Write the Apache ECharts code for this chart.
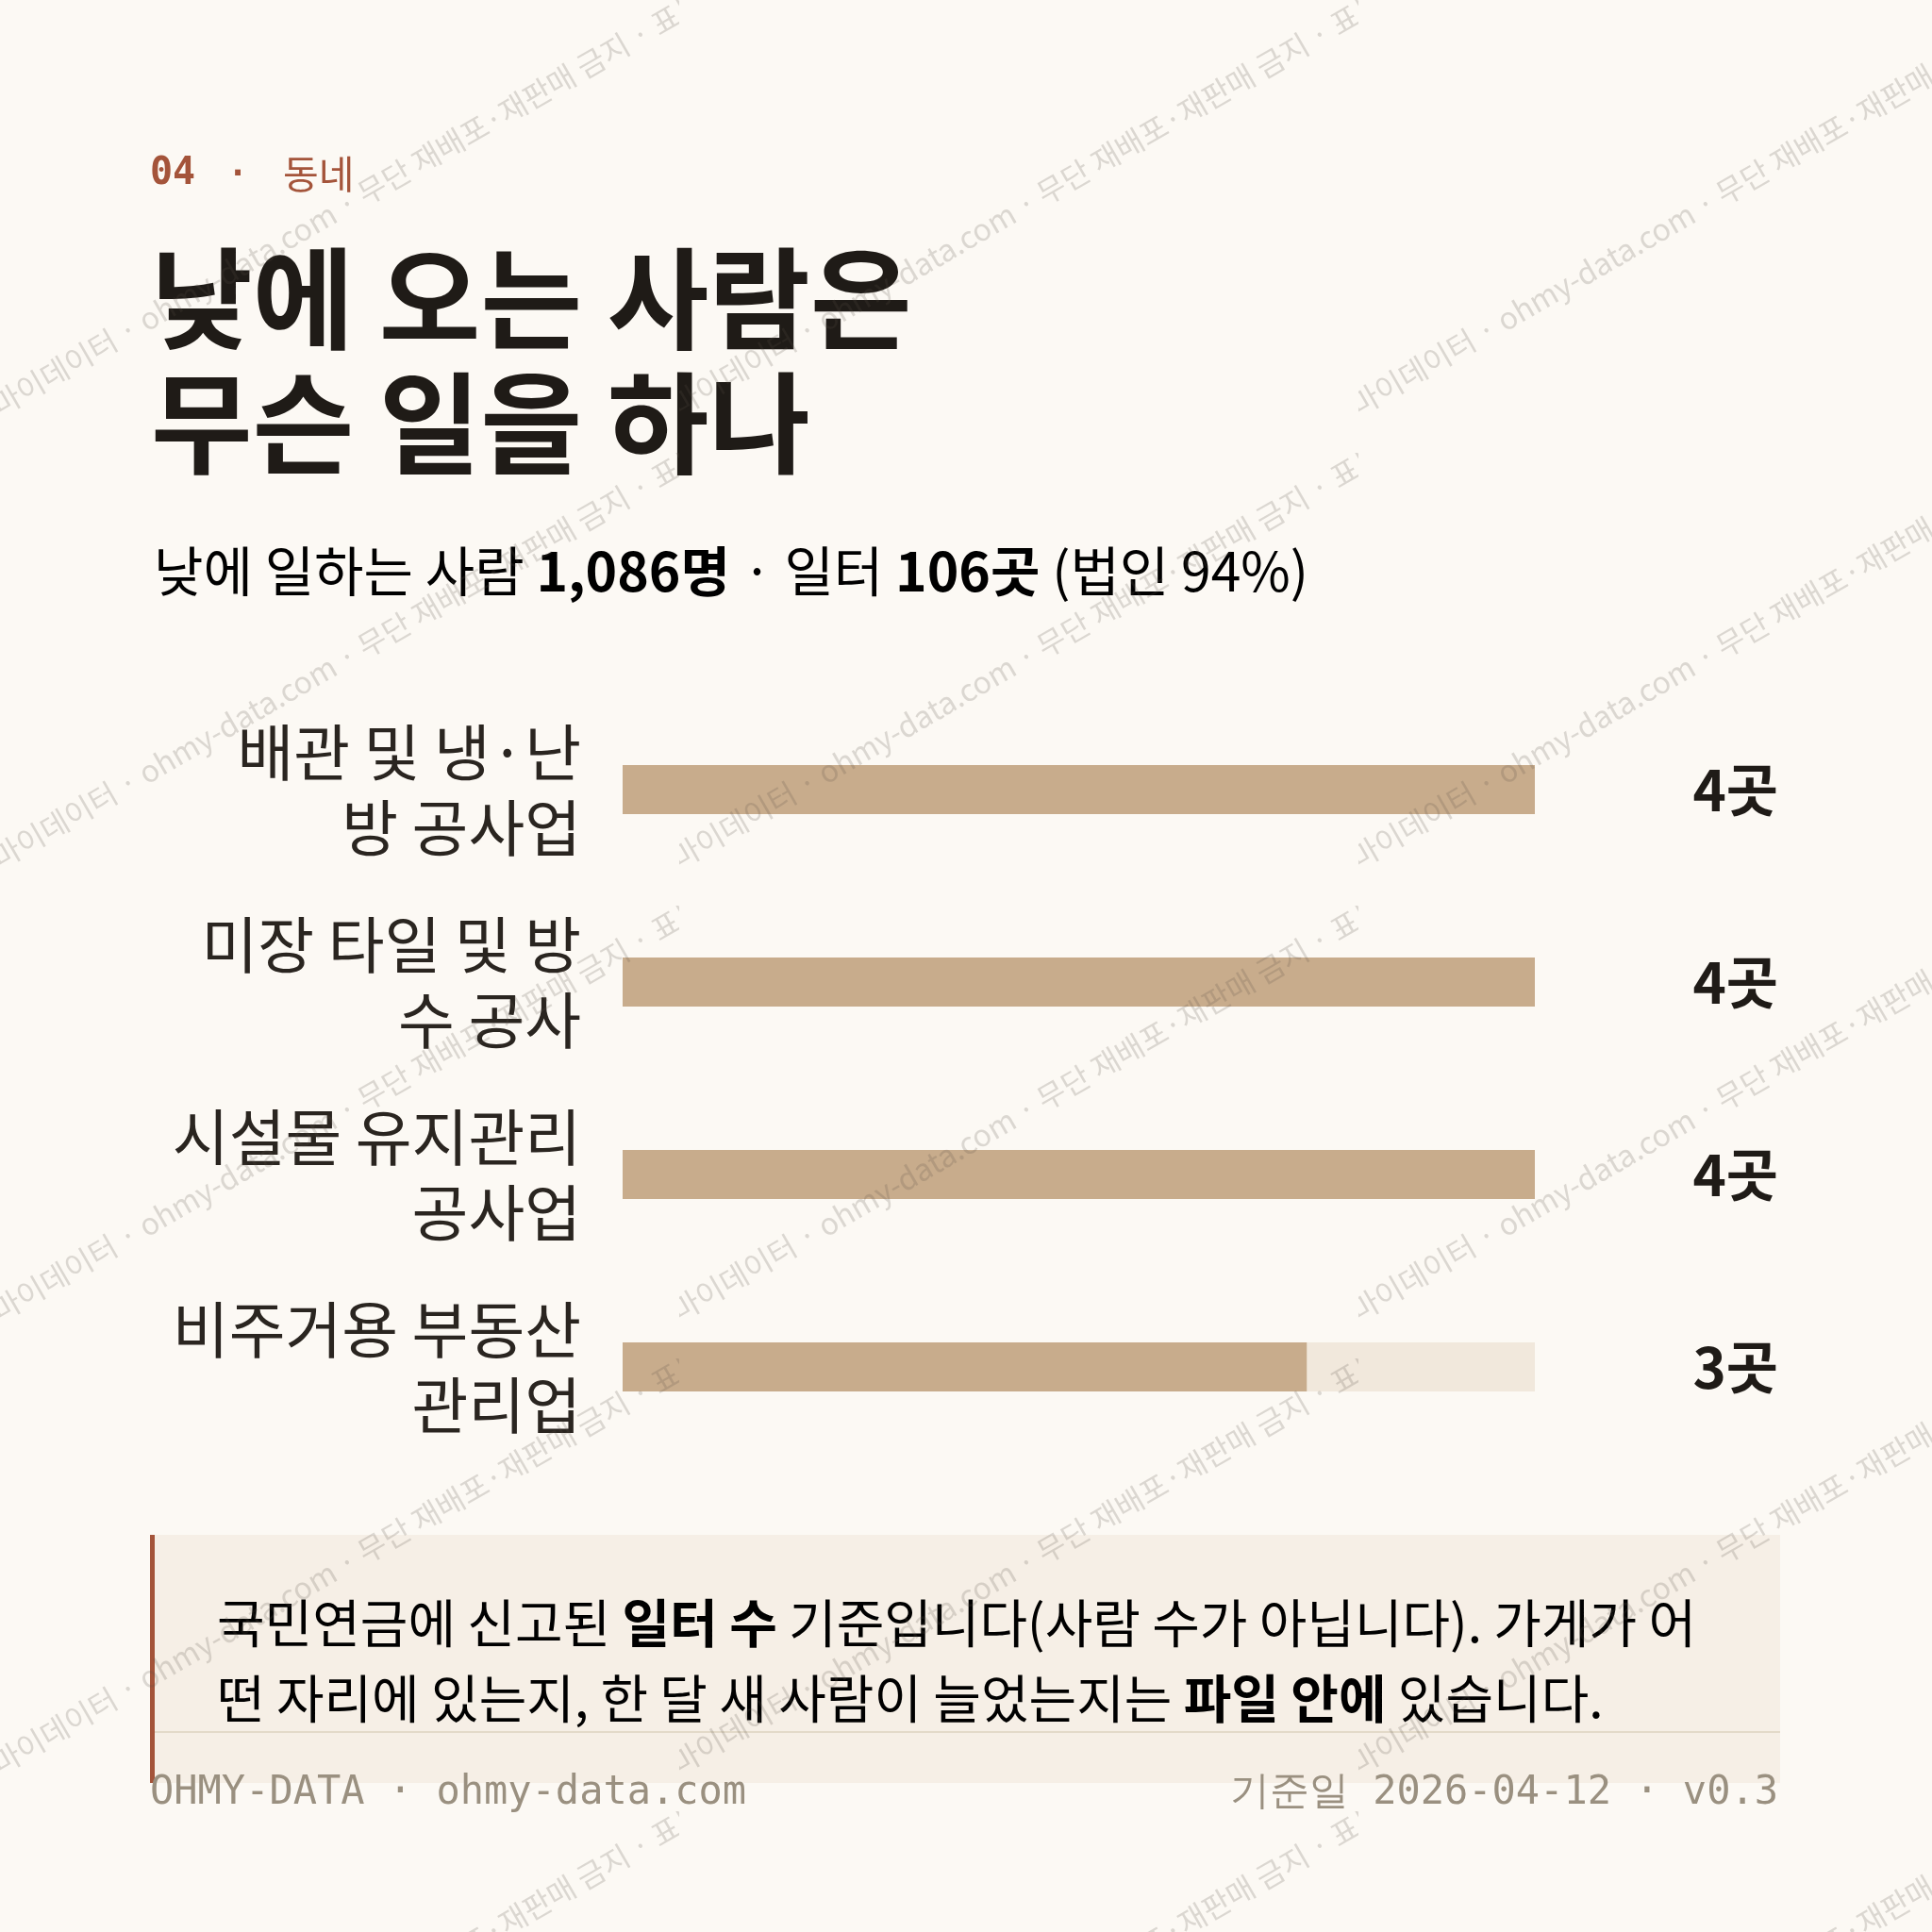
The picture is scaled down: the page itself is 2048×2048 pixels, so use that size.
<!DOCTYPE html>
<html>
<head>
<meta charset="utf-8">
<script src="https://cdn.jsdelivr.net/npm/echarts@6/dist/echarts.min.js"></script>
<style>
html,body{margin:0;padding:0;background:#fcf9f4;}
#chart{width:2048px;height:2048px;}
</style>
</head>
<body>
<div id="chart"></div>
<script>
// ---- data ----
const categories = ['배관 및 냉·난\n방 공사업', '미장 타일 및 방\n수 공사', '시설물 유지관리\n공사업', '비주거용 부동산\n관리업'];
const values = [4, 4, 4, 3];
const unit = '곳';
const axisMax = 4;
const kicker = ['04', '·', '동네'];
const titleText = '낮에 오는 사람은\n무슨 일을 하나';
const subtitleParts = [['n', '낮에 일하는 사람 '], ['b', '1,086명'], ['n', ' · 일터 '], ['b', '106곳'], ['n', ' (법인 94%)']];
const noteLines = [
  [['n', '국민연금에 신고된 '], ['b', '일터 수'], ['n', ' 기준입니다(사람 수가 아닙니다). 가게가 어']],
  [['n', '떤 자리에 있는지, 한 달 새 사람이 늘었는지는 '], ['b', '파일 안에'], ['n', ' 있습니다.']]
];
const footerLeft = 'OHMY-DATA · ohmy-data.com';
const footerRight = '기준일 2026-04-12 · v0.3';
const watermarkText = '· 마이데이터 · ohmy-data.com · 무단 재배포·재판매 금지 · 표본 데이터';

// ---- styles ----
const KR = '"Noto Sans CJK KR", "Noto Sans", sans-serif';
const MONO = '"DejaVu Sans Mono", "Liberation Mono", monospace';
const C = {
  bg: '#fcf9f4', ink: '#1f1b17', label: '#2a2520', sub: '#5a5248', rust: '#a4543a',
  bar: '#c8ac8c', track: '#f1e8dc', box: '#f6efe6', rule: '#e3dac9', foot: '#9a9080'
};

// watermark tile
function makeWatermark() {
  const W = 720, H = 480;
  const cv = document.createElement('canvas');
  cv.width = W; cv.height = H;
  const ctx = cv.getContext('2d');
  ctx.font = '32px ' + KR;
  ctx.fillStyle = 'rgba(90,80,70,0.20)';
  ctx.textBaseline = 'alphabetic';
  const lead = ctx.measureText('· ').width;
  ctx.translate(0, 442);
  ctx.rotate(-Math.PI / 6);
  ctx.fillText(watermarkText, -lead, 0);
  return cv;
}

const rich = (parts) => parts.map(p => '{' + p[0] + '|' + p[1] + '}').join('');

const chart = echarts.init(document.getElementById('chart'), null, { renderer: 'canvas' });
chart.setOption({
  backgroundColor: C.bg,
  animation: false,
  grid: { left: 660, right: 421, top: 735, height: 816, containLabel: false },
  xAxis: { type: 'value', min: 0, max: axisMax, show: false },
  yAxis: [
    {
      type: 'category', data: categories, inverse: true,
      axisLine: { show: false }, axisTick: { show: false }, splitLine: { show: false },
      axisLabel: {
        margin: 44, align: 'right', fontSize: 65, lineHeight: 80,
        fontFamily: KR, color: C.label
      }
    },
    {
      type: 'category', data: values.map(v => v + unit), inverse: true, position: 'right',
      axisLine: { show: false }, axisTick: { show: false }, splitLine: { show: false },
      axisLabel: {
        margin: 258, align: 'right', fontSize: 60, fontWeight: 'bold',
        fontFamily: KR, color: C.ink
      }
    }
  ],
  series: [{
    type: 'bar', data: values, barWidth: 52, yAxisIndex: 0,
    showBackground: true,
    backgroundStyle: { color: C.track },
    itemStyle: { color: C.bar },
    silent: true
  }],
  graphic: { elements: [
    // kicker
    { type: 'text', x: 159, y: 185, style: { text: kicker[0], font: 'bold 40px ' + MONO, fill: C.rust, textVerticalAlign: 'middle' } },
    { type: 'text', x: 252, y: 186, style: { text: kicker[1], font: 'bold 36px ' + MONO, fill: C.rust, textAlign: 'center', textVerticalAlign: 'middle' } },
    { type: 'text', x: 300, y: 184, style: { text: kicker[2], font: '41px ' + KR, fill: C.rust, textAlign: 'left', textVerticalAlign: 'middle' } },
    // title
    { type: 'text', x: 160, y: 383, style: { text: titleText, font: 'bold 117px ' + KR, lineHeight: 132, fill: C.ink, textAlign: 'left', textVerticalAlign: 'middle' } },
    // subtitle
    { type: 'text', x: 163, y: 605, style: {
      text: rich(subtitleParts), textAlign: 'left', textVerticalAlign: 'middle',
      rich: {
        n: { fontSize: 57, fontFamily: KR, color: C.sub },
        b: { fontSize: 57, fontFamily: KR, fontWeight: 'bold', color: C.sub }
      }
    } },
    // note box
    { type: 'rect', shape: { x: 159, y: 1627, width: 1728, height: 263 }, style: { fill: C.box }, z: -1 },
    { type: 'rect', shape: { x: 159, y: 1627, width: 5, height: 263 }, style: { fill: C.rust }, z: 1 },
    { type: 'rect', shape: { x: 159, y: 1835, width: 1728, height: 2 }, style: { fill: C.rule }, z: 0 },
    { type: 'text', x: 230, y: 1760, z: 2, style: {
      text: noteLines.map(rich).join('\n'), textAlign: 'left', textVerticalAlign: 'middle',
      rich: {
        n: { fontSize: 55, lineHeight: 80, fontFamily: KR, color: C.sub },
        b: { fontSize: 55, lineHeight: 80, fontFamily: KR, fontWeight: 'bold', color: C.ink }
      }
    } },
    // footer
    { type: 'text', x: 159, y: 1901, z: 3, style: { text: footerLeft, font: '42px ' + MONO, fill: C.foot, textAlign: 'left', textVerticalAlign: 'middle' } },
    { type: 'text', x: 1885, y: 1901, z: 3, style: { text: footerRight, font: '42px ' + MONO, fill: C.foot, textAlign: 'right', textVerticalAlign: 'middle' } },
    // watermark overlay
    { type: 'rect', silent: true, z: 100, shape: { x: 0, y: 0, width: 2048, height: 2048 },
      style: { fill: { image: makeWatermark(), repeat: 'repeat' } } }
  ] }
});
</script>
</body>
</html>
